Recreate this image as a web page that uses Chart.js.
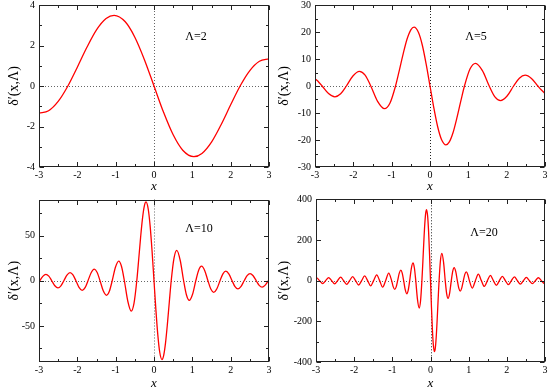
<!DOCTYPE html>
<html>
<head>
<meta charset="utf-8">
<title>delta prime</title>
<script src="https://cdn.jsdelivr.net/npm/chart.js@4.4.1/dist/chart.umd.min.js"></script>
<style>
  html, body { margin: 0; padding: 0; background: #fff; overflow: hidden; }
  body { width: 549px; height: 387px; position: relative; }
  canvas { position: absolute; }
</style>
</head>
<body>
<canvas id="p2" width="271" height="193" style="left:2px;top:0px"></canvas>
<canvas id="p5" width="277" height="193" style="left:272px;top:0px"></canvas>
<canvas id="p10" width="271" height="195" style="left:2px;top:195px"></canvas>
<canvas id="p20" width="277" height="195" style="left:272px;top:195px"></canvas>
<script>
// values (x, delta'(x, Lambda))
const xL2 = [-3, -2.75, -2.5, -2.25, -2, -1.75, -1.5, -1.25, -1.04, -0.75, -0.5, -0.25, 0,
  0.25, 0.5, 0.75, 1.04, 1.25, 1.5, 1.75, 2, 2.25, 2.5, 2.75, 3];
const yL2 = [-1.34, -1.22, -0.76, -0.01, 0.93, 1.91, 2.77, 3.33, 3.49, 3.17, 2.41, 1.30, 0,
  -1.30, -2.41, -3.17, -3.49, -3.33, -2.77, -1.91, -0.93, 0.01, 0.76, 1.22, 1.34];

const xL5 = [-3, -2.9, -2.813, -2.647, -2.481, -2.331, -2.181, -2.011, -1.841, -1.693,
  -1.545, -1.367, -1.188, -1.043, -0.899, -0.8, -0.7, -0.6, -0.5, -0.416,
  -0.3, -0.2, -0.1, 0, 0.1, 0.2, 0.3, 0.416, 0.5, 0.6,
  0.7, 0.8, 0.899, 1.043, 1.188, 1.367, 1.545, 1.693, 1.841, 2.011,
  2.181, 2.331, 2.481, 2.647, 2.813, 2.9, 3];
const yL5 = [2.7, 1.4, 0, -2.8, -4.0, -2.9, 0, 3.7, 5.4, 4.0,
  0, -5.7, -8.4, -6.3, 0, 5.8, 11.9, 17.3, 20.8, 21.8,
  19.8, 15.1, 8.1, 0, -8.1, -15.1, -19.8, -21.8, -20.8, -17.3,
  -11.9, -5.8, 0, 6.3, 8.4, 5.7, 0, -4.0, -5.4, -3.7,
  0, 2.9, 4.0, 2.8, 0, -1.4, -2.7];

const xL10 = [-3, -2.981, -2.901, -2.82, -2.744, -2.667, -2.586, -2.505, -2.429, -2.352,
  -2.271, -2.19, -2.114, -2.037, -1.956, -1.874, -1.798, -1.722, -1.64, -1.558,
  -1.482, -1.407, -1.324, -1.24, -1.165, -1.09, -1.006, -0.921, -0.847, -0.773,
  -0.683, -0.594, -0.522, -0.449, -0.4, -0.35, -0.3, -0.25, -0.208, -0.15,
  -0.1, -0.05, 0, 0.05, 0.1, 0.15, 0.208, 0.25, 0.3, 0.35,
  0.4, 0.449, 0.522, 0.594, 0.683, 0.773, 0.847, 0.921, 1.006, 1.09,
  1.165, 1.24, 1.324, 1.407, 1.482, 1.558, 1.64, 1.722, 1.798, 1.874,
  1.956, 2.037, 2.114, 2.19, 2.271, 2.352, 2.429, 2.505, 2.586, 2.667,
  2.744, 2.82, 2.901, 2.981, 3];
const yL10 = [-1.3, 0, 4.9, 7.1, 5.1, 0, -5.5, -8.0, -5.7, 0,
  6.3, 9.1, 6.6, 0, -7.4, -10.7, -7.7, 0, 8.9, 12.8,
  9.2, 0, -11.2, -16.1, -11.7, 0, 14.9, 21.7, 15.8, 0,
  -22.7, -33.6, -25.0, 0, 23.2, 47.8, 69.1, 83.2, 87.3, 79.2,
  60.2, 32.5, 0, -32.5, -60.2, -79.2, -87.3, -83.2, -69.1, -47.8,
  -23.2, 0, 25.0, 33.6, 22.7, 0, -15.8, -21.7, -14.9, 0,
  11.7, 16.1, 11.2, 0, -9.2, -12.8, -8.9, 0, 7.7, 10.7,
  7.4, 0, -6.6, -9.1, -6.3, 0, 5.7, 8.0, 5.5, 0,
  -5.1, -7.1, -4.9, 0, 1.3];

const xL20 = [-3, -2.983, -2.905, -2.826, -2.748, -2.669, -2.591, -2.511, -2.434, -2.354,
  -2.277, -2.197, -2.119, -2.04, -1.962, -1.882, -1.805, -1.725, -1.648, -1.568,
  -1.491, -1.41, -1.333, -1.253, -1.176, -1.095, -1.019, -0.978, -0.937, -0.899,
  -0.861, -0.82, -0.779, -0.741, -0.703, -0.662, -0.62, -0.583, -0.545, -0.503,
  -0.46, -0.423, -0.386, -0.342, -0.297, -0.261, -0.225, -0.2, -0.175, -0.15,
  -0.125, -0.104, -0.075, -0.05, -0.025, 0, 0.025, 0.05, 0.075, 0.104,
  0.125, 0.15, 0.175, 0.2, 0.225, 0.261, 0.297, 0.342, 0.386, 0.423,
  0.46, 0.503, 0.545, 0.583, 0.62, 0.662, 0.703, 0.741, 0.779, 0.82,
  0.861, 0.899, 0.937, 0.978, 1.019, 1.095, 1.176, 1.253, 1.333, 1.41,
  1.491, 1.568, 1.648, 1.725, 1.805, 1.882, 1.962, 2.04, 2.119, 2.197,
  2.277, 2.354, 2.434, 2.511, 2.591, 2.669, 2.748, 2.826, 2.905, 2.983, 3];
const yL20 = [12.6, 13.4, 0, -14.2, 0, 15.0, 0, -15.9, 0, 17.0,
  0, -18.2, 0, 19.6, 0, -21.3, 0, 23.2, 0, -25.5,
  0, 28.4, 0, -31.9, 0, 36.6, 0, -29.4, -42.7, -30.7,
  0, 35.7, 51.4, 37.0, 0, -44.6, -64.5, -46.6, 0, 59.6,
  86.9, 63.4, 0, -90.9, -134.5, -100, 0, 93, 191, 277,
  333, 349, 317, 241, 130, 0, -130, -241, -317, -349,
  -333, -277, -191, -93, 0, 100, 134.5, 90.9, 0, -63.4,
  -86.9, -59.6, 0, 46.6, 64.5, 44.6, 0, -37.0, -51.4, -35.7,
  0, 30.7, 42.7, 29.4, 0, -36.6, 0, 31.9, 0, -28.4,
  0, 25.5, 0, -23.2, 0, 21.3, 0, -19.6, 0, 18.2,
  0, -17.0, 0, 15.9, 0, -15.0, 0, 14.2, 0, -13.4, -12.6];

const lambdaLabels = ['Λ=2', 'Λ=5', 'Λ=10', 'Λ=20'];
const yTitle = 'δ′(x,Λ)';

Chart.defaults.font.family = "'Liberation Serif', 'Times New Roman', serif";
Chart.defaults.color = '#000';

// frame, inward ticks on all four sides, dotted zero axes, Lambda label
const panelDecor = {
  id: 'panelDecor',
  beforeDatasetsDraw(chart, args, opts) {
    const { ctx, chartArea: a, scales: { x, y } } = chart;
    const x0 = Math.round(x.getPixelForValue(0)) + 0.5;
    const y0 = Math.round(y.getPixelForValue(0)) + 0.5;
    ctx.save();
    ctx.lineWidth = 1;
    ctx.setLineDash([1, 2]);
    ctx.strokeStyle = '#666';
    ctx.beginPath();
    ctx.moveTo(a.left, y0);
    ctx.lineTo(a.right, y0);
    ctx.stroke();
    ctx.strokeStyle = opts.vColor;
    ctx.beginPath();
    ctx.moveTo(x0, a.top);
    ctx.lineTo(x0, a.bottom);
    ctx.stroke();
    ctx.restore();
  },
  afterDatasetsDraw(chart, args, opts) {
    const { ctx, chartArea: a, scales: { x, y } } = chart;
    const L = Math.round(a.left) + 0.5, R = Math.round(a.right) - 0.5;
    const T = Math.round(a.top) + 0.5, B = Math.round(a.bottom) - 0.5;
    ctx.save();
    ctx.strokeStyle = '#222';
    ctx.lineWidth = 1;
    ctx.strokeRect(L, T, R - L, B - T);
    ctx.beginPath();
    for (let v = x.min; v <= x.max + 1e-9; v += opts.xMinor) {
      const major = Math.abs(v / opts.xMajor - Math.round(v / opts.xMajor)) < 1e-6;
      const len = major ? 4.5 : 2.5;
      const px = Math.round(x.getPixelForValue(v)) + 0.5;
      ctx.moveTo(px, B); ctx.lineTo(px, B - len);
      ctx.moveTo(px, T); ctx.lineTo(px, T + len);
    }
    const start = Math.ceil(y.min / opts.yMinor - 1e-9) * opts.yMinor;
    for (let v = start; v <= y.max + 1e-9; v += opts.yMinor) {
      const major = Math.abs(v / opts.yMajor - Math.round(v / opts.yMajor)) < 1e-6;
      const len = major ? 4.5 : 2.5;
      const py = Math.round(y.getPixelForValue(v)) + 0.5;
      ctx.moveTo(L, py); ctx.lineTo(L + len, py);
      ctx.moveTo(R, py); ctx.lineTo(R - len, py);
    }
    ctx.stroke();
    ctx.fillStyle = '#000';
    ctx.font = "12px 'Liberation Serif', serif";
    ctx.textAlign = 'center';
    ctx.textBaseline = 'middle';
    ctx.fillText(opts.label, a.left + opts.lx, a.top + opts.ly);
    ctx.restore();
  }
};

function buildPanel(id, xs, ys, cfg) {
  const pts = xs.map((v, i) => ({ x: v, y: ys[i] }));
  return new Chart(document.getElementById(id), {
    type: 'line',
    data: {
      datasets: [{
        data: pts,
        borderColor: '#ff0000',
        borderWidth: 1.3,
        pointRadius: 0,
        fill: false,
        cubicInterpolationMode: 'monotone'
      }]
    },
    options: {
      responsive: false,
      animation: false,
      events: [],
      layout: { padding: { top: cfg.padTop, right: 4, left: 0, bottom: 0 } },
      plugins: {
        legend: { display: false },
        tooltip: { enabled: false },
        panelDecor: {
          xMajor: 1, xMinor: 0.5,
          yMajor: cfg.yStep, yMinor: cfg.yMinor,
          label: cfg.label, lx: cfg.lx, ly: cfg.ly,
          vColor: cfg.vColor
        }
      },
      scales: {
        x: {
          type: 'linear',
          min: -3,
          max: 3,
          ticks: { stepSize: 1, padding: 2, font: { size: 10 } },
          grid: { display: false, drawTicks: false },
          border: { display: false },
          title: { display: true, text: 'x', padding: 0, font: { size: 13, style: 'italic', lineHeight: 1 } },
          afterFit: (s) => { s.height = cfg.xHeight; s.paddingLeft = 0; s.paddingRight = 0; }
        },
        y: {
          type: 'linear',
          min: cfg.yMin,
          max: cfg.yMax,
          ticks: { stepSize: cfg.yStep, padding: 4, includeBounds: false, font: { size: 10 } },
          grid: { display: false, drawTicks: false },
          border: { display: false },
          title: { display: true, text: yTitle, padding: { top: 5, bottom: 0 }, font: { size: 14, lineHeight: 1 } },
          afterFit: (s) => { s.width = cfg.yWidth; s.paddingTop = 0; s.paddingBottom = 0; }
        }
      }
    },
    plugins: [panelDecor]
  });
}

buildPanel('p2', xL2, yL2, { yMin: -4, yMax: 4, yStep: 2, yMinor: 1, yWidth: 37, xHeight: 26, padTop: 5,
  label: lambdaLabels[0], lx: 157, ly: 32, vColor: '#666' });
buildPanel('p5', xL5, yL5, { yMin: -30, yMax: 30, yStep: 10, yMinor: 5, yWidth: 43, xHeight: 26, padTop: 5,
  label: lambdaLabels[1], lx: 161, ly: 32, vColor: '#222' });
buildPanel('p10', xL10, yL10, { yMin: -90, yMax: 90, yStep: 50, yMinor: 25, yWidth: 37, xHeight: 28, padTop: 4.5,
  label: lambdaLabels[2], lx: 160, ly: 29, vColor: '#666' });
buildPanel('p20', xL20, yL20, { yMin: -400, yMax: 400, yStep: 200, yMinor: 100, yWidth: 44, xHeight: 28, padTop: 4.3,
  label: lambdaLabels[3], lx: 168, ly: 34, vColor: '#222' });
</script>
</body>
</html>
